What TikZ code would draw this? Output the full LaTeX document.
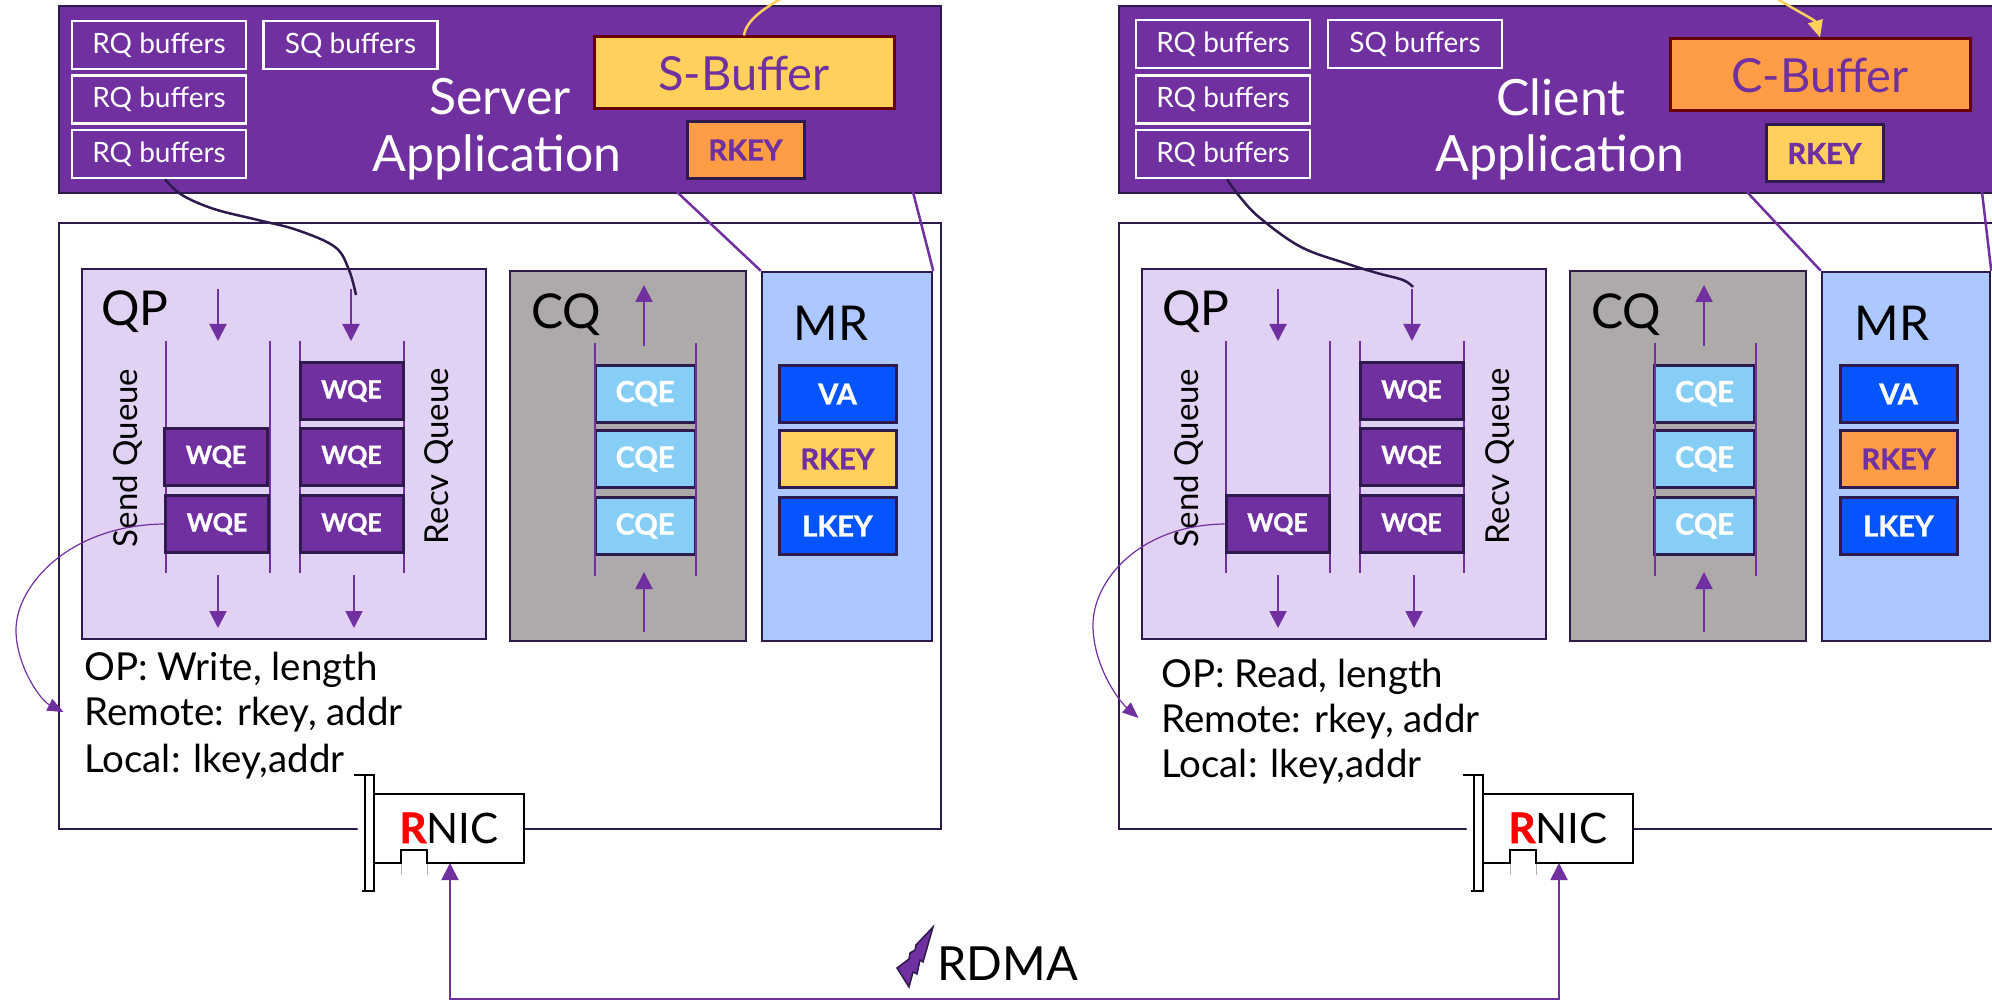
\documentclass[tikz,border=0pt]{standalone}
\usepackage{fontspec}
\setmainfont{Lato}[BoldFeatures={FakeBold=1.2}]
\usetikzlibrary{arrows.meta}

\definecolor{appviolet}{HTML}{7030A0}
\definecolor{darkedge}{HTML}{2E1A4D}
\definecolor{qplilac}{HTML}{E1D1F2}
\definecolor{cqgrey}{HTML}{AEAAAA}
\definecolor{mrblue}{HTML}{ADC7FF}
\definecolor{keyblue}{HTML}{0455FF}
\definecolor{cqecyan}{HTML}{87CEF7}
\definecolor{bufyellow}{HTML}{FFD05B}
\definecolor{buforange}{HTML}{FF9C45}

\tikzset{
  panel/.style={draw=darkedge, line width=2.5pt, inner sep=0pt, anchor=center},
  hostbox/.style={panel, fill=white, minimum height=606pt},
  appbox/.style={panel, fill=appviolet, minimum height=187pt},
  bufbox/.style={draw=white, line width=2.5pt, inner sep=0pt, text=white, minimum width=174pt, minimum height=48pt, font=\fontsize{28}{28}\selectfont},
  membuf/.style={draw=black!60!red, line width=3pt, inner sep=0pt, text=appviolet, minimum width=300pt, minimum height=72pt, font=\fontsize{47}{47}\selectfont},
  entry/.style={panel, line width=3pt, text=white, minimum height=57pt, font=\fontsize{25}{25}\selectfont\bfseries},
  wqe/.style={entry, fill=appviolet, minimum width=103pt},
  cqe/.style={entry, fill=cqecyan, minimum width=100pt, font=\fontsize{29}{29}\selectfont\bfseries},
  key/.style={entry, fill=keyblue, minimum width=117pt, font=\fontsize{29}{29}\selectfont\bfseries},
  rkey/.style={key, text=appviolet},
  apptext/.style={text=white, font=\fontsize{50}{50}\selectfont},
  bigtext/.style={font=\fontsize{48}{48}\selectfont},
  sidetext/.style={rotate=90, font=\fontsize{33}{33}\selectfont},
  optext/.style={anchor=base west, inner sep=0pt, font=\fontsize{38.5}{38.5}\selectfont},
  flow/.style={draw=appviolet, line width=2pt, -{Triangle[length=17pt,width=17pt]}},
  rail/.style={draw=appviolet, line width=2pt},
  keylink/.style={draw=appviolet, line width=2.5pt},
  handwire/.style={draw=darkedge, line width=2.5pt},
  postwire/.style={draw=appviolet, line width=1.2pt, -{Triangle[length=16pt,width=13pt]}},
  yellowwire/.style={draw=bufyellow, line width=2.5pt},
  nicline/.style={draw=black, line width=2.5pt}
}

\begin{document}
\begin{tikzpicture}[x=1pt,y=-1pt]
  \useasboundingbox (0,0) rectangle (1992,1000);

  % server and client hosts
  \node[hostbox, minimum width=882pt] (shost) at (500,526) {};
  \node[hostbox, minimum width=891pt] (chost) at (1564.5,526) {};
  \node[appbox, minimum width=882pt] (sapp) at (500,99.5) {};
  \node[appbox, minimum width=891pt] (capp) at (1564.5,99.5) {};

  % server application
  \node[bufbox] (srqa) at (159,45) {RQ buffers};
  \node[bufbox] (srqb) at (159,99.5) {RQ buffers};
  \node[bufbox] (srqc) at (159,154) {RQ buffers};
  \node[bufbox] (ssq) at (350.5,45) {SQ buffers};
  \node[apptext] (sname) at (500,97) {Server};
  \node[apptext] (sappname) at (497,157) {Application};
  \node[membuf, fill=bufyellow] (sbuf) at (744,73) {S-Buffer};
  \node[rkey, fill=buforange] (sappkey) at (745.5,150) {RKEY};

  % client application
  \node[bufbox] (crqa) at (1223,44) {RQ buffers};
  \node[bufbox] (crqb) at (1223,99.5) {RQ buffers};
  \node[bufbox] (crqc) at (1223,154) {RQ buffers};
  \node[bufbox] (csq) at (1415,44) {SQ buffers};
  \node[apptext] (cname) at (1561,97) {Client};
  \node[apptext] (cappname) at (1560,157) {Application};
  \node[membuf, fill=buforange] (cbuf) at (1820,75) {C-Buffer};
  \node[rkey, fill=bufyellow] (cappkey) at (1824.5,153.5) {RKEY};

  % server QP, CQ, MR
  \node[panel, fill=qplilac, minimum width=404pt, minimum height=370pt] (sqp) at (284,454) {};
  \node[panel, fill=cqgrey, minimum width=236pt, minimum height=370pt] (scq) at (628,456) {};
  \node[panel, fill=mrblue, minimum width=170pt, minimum height=369pt] (smr) at (847,456.5) {};
  \node[bigtext] (sqpname) at (135,312) {QP};
  \node[bigtext] (scqname) at (566,315) {CQ};
  \node[bigtext] (smrname) at (831,323) {MR};
  \node[sidetext] (ssend) at (128,458) {Send Queue};
  \node[sidetext] (srecv) at (439,456) {Recv Queue};

  % client QP, CQ, MR
  \node[panel, fill=qplilac, minimum width=404pt, minimum height=370pt] (cqp) at (1344,454) {};
  \node[panel, fill=cqgrey, minimum width=236pt, minimum height=370pt] (ccq) at (1688,456) {};
  \node[panel, fill=mrblue, minimum width=168pt, minimum height=369pt] (cmr) at (1906,456.5) {};
  \node[bigtext] (cqpname) at (1196,312) {QP};
  \node[bigtext] (ccqname) at (1626,315) {CQ};
  \node[bigtext] (cmrname) at (1892,323) {MR};
  \node[sidetext] (csend) at (1189,458) {Send Queue};
  \node[sidetext] (crecv) at (1500,456) {Recv Queue};

  % queue rails
  \foreach \x in {166,270,300,404,1226,1330,1360,1464}
    \draw[rail] (\x,341) -- (\x,573);

  % queue entries
  \node[wqe] (swqea) at (216,456.5) {WQE};
  \node[wqe] (swqeb) at (217,524) {WQE};
  \node[wqe] (srwqa) at (351.5,391) {WQE};
  \node[wqe] (srwqb) at (351.5,456.5) {WQE};
  \node[wqe] (srwqc) at (351.5,524) {WQE};
  \node[cqe] (scqea) at (645,393.5) {CQE};
  \node[cqe] (scqeb) at (645,459) {CQE};
  \node[cqe] (scqec) at (645,526) {CQE};
  \node[key] (sva) at (837.5,394) {VA};
  \node[rkey, fill=bufyellow] (srkey) at (837.5,459) {RKEY};
  \node[key] (slkey) at (837.5,526) {LKEY};

  \node[wqe] (cwqe) at (1277.5,524) {WQE};
  \node[wqe] (crwqa) at (1411.5,391) {WQE};
  \node[wqe] (crwqb) at (1411.5,456.5) {WQE};
  \node[wqe] (crwqc) at (1411.5,524) {WQE};
  \node[cqe] (ccqea) at (1704.5,393.5) {CQE};
  \node[cqe] (ccqeb) at (1704.5,459) {CQE};
  \node[cqe] (ccqec) at (1704.5,526) {CQE};
  \node[key] (cva) at (1898.5,394) {VA};
  \node[rkey, fill=buforange] (crkey) at (1898.5,459) {RKEY};
  \node[key] (clkey) at (1898.5,526) {LKEY};

  \foreach \x in {594.5,695.5,1654.5,1755.5}
    \draw[rail] (\x,343) -- (\x,576);

  % work request fields
  \node[optext] (sop) at (84,680) {OP: Write, length};
  \node[optext] (sremote) at (84,725) {Remote: rkey, addr};
  \node[optext] (slocal) at (84,772) {Local: lkey,addr};
  \node[optext] (cop) at (1161,687) {OP: Read, length};
  \node[optext] (cremote) at (1161,732) {Remote: rkey, addr};
  \node[optext] (clocal) at (1161,777) {Local: lkey,addr};

  % queue arrows
  \foreach \nm/\x in {sa/218,sb/351,ca/1278,cb/1412} {
    \coordinate (\nm in) at (\x,289);
    \coordinate (\nm entry) at (\x,341);
    \draw[flow] (\nm in) -- (\nm entry);
  }
  \foreach \nm/\x in {sa/218,sb/354,ca/1278,cb/1414} {
    \coordinate (\nm exit) at (\x,575);
    \coordinate (\nm out) at (\x,628);
    \draw[flow] (\nm exit) -- (\nm out);
  }
  \foreach \nm/\x in {s/644,c/1704} {
    \coordinate (\nm cqtop) at (\x,346);
    \coordinate (\nm cqhead) at (\x,285);
    \coordinate (\nm cqbase) at (\x,632);
    \coordinate (\nm cqtail) at (\x,572);
    \draw[flow] (\nm cqtop) -- (\nm cqhead);
    \draw[flow] (\nm cqbase) -- (\nm cqtail);
  }

  % links from the applications
  \coordinate (skeya) at (677,192);
  \coordinate (skeyb) at (913,192);
  \coordinate (ckeya) at (1747,192);
  \coordinate (ckeyb) at (1982,192);
  \draw[keylink] (skeya) -- (smr.north west);
  \draw[keylink] (skeyb) -- (smr.north east);
  \draw[keylink] (ckeya) -- (cmr.north west);
  \draw[keylink] (ckeyb) -- (cmr.north east);

  \coordinate (srqend) at (356,295);
  \coordinate (crqend) at (1413,287);
  \draw[handwire] plot[smooth, tension=0.6] coordinates {([xshift=6pt]srqc.south) (182,195) (214,209) (258,220) (297,230) (335,247) (349,270) (srqend)};
  \draw[handwire] plot[smooth, tension=0.6] coordinates {([xshift=4pt]crqc.south) (1240,197) (1260,218) (1301,247) (1348,264) (1377,273) (1403,280) (crqend)};

  \coordinate (sfield) at (63.5,712);
  \coordinate (cfield) at (1138.5,718);
  \coordinate (sbulge) at (16,630);
  \coordinate (cbulge) at (1093,625);
  \draw[postwire] (swqeb.west) .. controls (70,525) and (16,585) .. (sbulge) .. controls (16,665) and (40,700) .. (sfield);
  \draw[postwire] (cwqe.west) .. controls (1140,525) and (1093,580) .. (cbulge) .. controls (1093,665) and (1118,700) .. (cfield);

  \coordinate (sleave) at (782,-2);
  \coordinate (centry) at (1776,-2);
  \draw[yellowwire] (sbuf.north) .. controls (746,20) and (765,8) .. (sleave);
  \draw[yellowwire, -{Triangle[length=17pt,width=15pt]}] (centry) .. controls (1795,10) and (1815,20) .. (cbuf.north);

  % network cards
  \foreach \dx in {0,1109} {
    \begin{scope}[xshift=\dx pt]
      \fill[white] (374,794) rectangle (524,863);
      \draw[nicline] (374,794) -- (524,794) -- (524,863) -- (427,863) -- (427,850) -- (401,850) -- (401,863) -- (374,863);
      \draw[draw=black!30, line width=0.8pt] (401,864) -- (401,875) (427,864) -- (427,875);
      \draw[nicline, fill=white] (354,775) -- (374,775) -- (374,891) -- (362,891) (365,775) -- (365,891);
      \fill[white] (366.5,777) rectangle (372.5,889);
    \end{scope}
  }
  \node[anchor=base, inner sep=0pt, font=\fontsize{42}{42}\selectfont] (snic) at (449,843) {\textcolor{red}{\bfseries R}NIC};
  \node[anchor=base, inner sep=0pt, font=\fontsize{42}{42}\selectfont] (cnic) at (1558,843) {\textcolor{red}{\bfseries R}NIC};

  % rdma link
  \coordinate (snicport) at (450,863);
  \coordinate (cnicport) at (1559,863);
  \coordinate (clow) at (1559,999);
  \draw[draw=appviolet, line width=2pt, {Triangle[length=17pt,width=17pt]}-{Triangle[length=17pt,width=17pt]}] (snicport) |- (clow) -- (cnicport);
  \draw[draw=darkedge, line width=1.5pt, fill=appviolet] (933,927) -- (916,945) -- (915,950) -- (910,953) -- (909,959) -- (897,968) -- (909,987) -- (913,972) -- (917,974) -- (920,960) -- (923,962) -- cycle;
  \node[anchor=base west, inner sep=0pt, font=\fontsize{47}{47}\selectfont] (rdma) at (937,980) {RDMA};
\end{tikzpicture}
\end{document}
